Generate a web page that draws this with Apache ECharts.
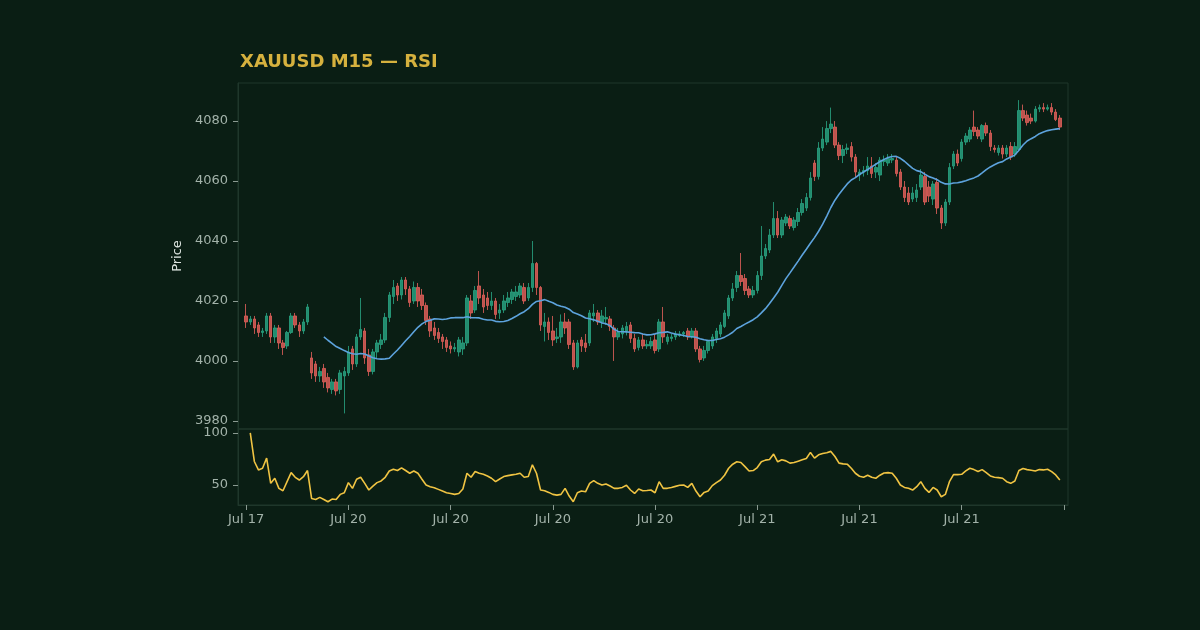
<!DOCTYPE html>
<html>
<head>
<meta charset="utf-8">
<title>XAUUSD M15 — RSI</title>
<script src="https://cdn.jsdelivr.net/npm/echarts@6/dist/echarts.min.js"></script>
<style>
  html, body { margin: 0; padding: 0; background: #0a1e14; }
  #chart { width: 1200px; height: 630px; }
</style>
</head>
<body>
<div id="chart"></div>
<script>
// trading days and how many M15 bars each one has on the chart
const days = [['Jul 17', 16], ['Jul 20', 96], ['Jul 21', 88]];

// [open, close, low, high]
const ohlc = [
  [4015, 4013, 4011, 4019], [4013, 4014, 4012, 4015], [4014, 4011, 4009, 4015], [4012, 4009.5, 4008, 4013],
  [4009.5, 4010, 4008, 4011], [4010, 4015, 4009, 4016], [4015, 4008, 4006, 4016], [4008, 4011, 4006, 4012],
  [4011, 4006, 4004, 4012], [4006, 4004.5, 4002, 4007], [4005, 4009.5, 4004, 4010], [4009.5, 4015, 4009, 4016],
  [4015, 4012, 4011, 4016], [4012, 4010, 4008, 4013], [4010, 4013, 4009, 4014], [4013, 4018, 4012, 4019],
  [4001, 3996, 3994, 4003], [3999, 3995, 3993, 4000], [3995, 3996.5, 3993, 3998], [3997.5, 3993, 3991, 3999],
  [3994.5, 3991, 3989.5, 3996], [3990.5, 3993, 3989, 3994], [3993, 3990, 3988.5, 3994], [3990.5, 3996, 3989, 3997],
  [3995, 3996.5, 3982.5, 3998], [3996, 4003, 3995, 4005], [4004, 3999, 3997, 4005], [3999, 4008, 3998, 4009],
  [4008, 4010.5, 4007, 4021], [4010, 4001, 3999, 4011], [4002, 3996.5, 3995, 4004], [3996.5, 4003, 3995.5, 4004],
  [4003, 4006, 4001, 4007], [4005.5, 4007, 4004, 4009], [4007, 4014.5, 4006, 4016], [4014.5, 4022, 4013, 4023],
  [4021.5, 4024.5, 4019, 4027], [4025, 4022, 4020, 4026], [4022, 4027, 4020.5, 4028], [4027, 4024, 4022, 4028],
  [4024, 4019.5, 4018, 4025], [4020, 4024.5, 4019, 4026.5], [4024.5, 4020, 4018, 4026], [4022, 4018.5, 4017, 4024],
  [4018.5, 4013.5, 4012, 4019.5], [4014, 4010, 4008, 4015], [4011, 4008.5, 4007, 4013], [4009.5, 4007.5, 4006, 4011],
  [4008, 4006.5, 4004, 4009], [4007, 4004.5, 4003, 4008], [4005, 4004, 4002.5, 4006.5], [4004, 4004.5, 4003, 4006],
  [4003, 4007, 4001.5, 4008], [4004, 4006, 4002, 4008], [4006, 4021, 4005, 4022], [4020, 4016, 4014, 4022],
  [4017, 4023.5, 4016, 4025], [4025, 4021, 4019, 4030], [4022, 4018, 4016, 4024], [4021, 4018.5, 4017, 4023],
  [4018.5, 4020, 4017, 4023], [4020, 4015.5, 4014, 4021], [4016, 4017, 4014, 4019], [4017, 4020, 4016, 4022],
  [4019.5, 4021, 4018, 4023], [4020.5, 4023, 4019, 4024], [4021.5, 4023, 4020, 4025], [4022, 4025, 4021, 4026],
  [4024.5, 4020, 4019, 4026], [4021, 4024.5, 4020, 4026], [4024.5, 4032.5, 4023, 4040], [4032.5, 4024.5, 4022, 4033],
  [4024.5, 4012, 4010, 4025], [4011.5, 4013, 4006.5, 4016], [4013, 4009.5, 4007, 4014.5], [4010, 4007, 4005, 4015],
  [4007.5, 4008, 4006, 4011], [4008, 4013, 4006, 4015.5], [4013, 4011, 4009, 4016], [4013, 4005.5, 4004, 4014],
  [4006, 3998, 3997, 4007], [3998, 4006, 3997.5, 4007], [4007, 4005, 4003, 4008], [4006, 4004.5, 4003, 4009],
  [4006, 4016, 4005, 4017], [4015, 4016, 4013, 4019], [4016, 4013, 4012, 4017], [4013, 4015, 4011, 4017],
  [4014, 4014.5, 4012, 4018], [4014, 4011.5, 4010, 4015], [4011, 4008, 4000, 4012], [4008, 4009.5, 4007, 4011],
  [4009, 4011, 4007.5, 4012], [4010, 4011.5, 4008.5, 4013], [4012, 4007.5, 4006, 4013], [4007.5, 4004, 4003, 4009],
  [4004.5, 4007, 4003.5, 4008], [4007, 4005, 4004, 4009], [4005, 4005.5, 4004, 4007], [4005, 4006.5, 4004, 4008],
  [4007, 4003.5, 4002.5, 4009], [4004, 4013, 4003, 4014], [4013, 4008, 4006, 4018], [4006.5, 4008, 4005.5, 4009],
  [4007.5, 4008, 4006.5, 4009], [4008, 4009, 4007, 4010], [4008.5, 4009, 4008, 4010], [4009, 4009.5, 4008, 4010],
  [4010, 4008, 4007, 4011], [4008, 4010, 4007.5, 4011], [4010, 4004, 4003, 4011], [4004, 4000.5, 3999.5, 4005],
  [4001, 4003.5, 4000, 4005], [4003.5, 4006.5, 4002.5, 4007], [4005, 4008, 4004, 4009], [4007.5, 4010, 4006, 4011],
  [4009, 4012, 4008, 4013], [4011.5, 4016, 4011, 4017], [4015, 4021, 4014, 4022], [4021, 4024, 4020, 4026],
  [4024.5, 4028.5, 4023, 4030], [4028.5, 4026.5, 4025, 4036], [4027.5, 4023.5, 4022, 4029], [4024, 4022, 4021, 4025],
  [4022, 4023.5, 4021, 4025], [4023.5, 4028.5, 4022.5, 4030], [4028.5, 4035, 4027, 4045], [4035, 4037.5, 4034, 4039],
  [4037, 4042, 4036, 4044], [4042, 4047.5, 4041, 4053], [4047.5, 4042, 4041, 4050], [4042, 4047, 4041, 4048],
  [4046, 4048, 4045, 4049], [4047.5, 4045, 4044, 4048.5], [4044.5, 4047, 4043.5, 4048], [4046.5, 4049.5, 4045, 4051],
  [4049.5, 4052.5, 4048.5, 4054], [4051, 4054.5, 4050, 4056], [4054.5, 4061, 4053.5, 4063], [4066, 4061.5, 4060, 4067],
  [4061.5, 4071, 4060.5, 4073], [4071, 4074, 4070, 4078], [4073, 4077.5, 4072, 4080], [4077.5, 4079, 4076, 4084.5],
  [4078, 4072, 4071, 4080], [4072, 4068.5, 4067, 4073], [4068.5, 4070.5, 4066, 4072], [4070.5, 4071, 4069, 4072.5],
  [4071.5, 4068, 4066.5, 4073], [4068, 4063, 4061, 4069], [4062, 4063, 4060, 4064], [4063, 4063.5, 4061.5, 4065],
  [4063.5, 4065, 4062, 4068], [4065, 4062.5, 4061, 4068], [4063, 4064.5, 4061, 4066], [4062, 4067, 4060, 4068],
  [4066.5, 4067, 4065, 4068.5], [4066, 4067.5, 4065, 4069], [4067, 4067.5, 4066, 4069], [4067, 4062.5, 4061.5, 4068],
  [4063, 4058, 4057, 4064], [4058, 4054.5, 4053, 4060], [4056, 4053, 4052, 4058], [4054, 4056, 4053, 4058],
  [4054.5, 4057, 4053, 4059], [4058, 4062, 4057, 4064], [4061.5, 4053, 4052, 4063], [4058, 4055, 4053, 4060],
  [4054, 4059, 4052, 4060], [4059.5, 4051, 4049, 4061], [4051, 4046, 4044, 4052], [4046, 4053, 4045, 4054],
  [4053, 4064.5, 4052, 4066], [4065, 4069, 4064, 4070], [4069, 4066, 4065, 4070.5], [4067.5, 4073, 4066.5, 4074],
  [4073, 4075, 4072, 4076], [4074, 4077, 4073, 4078], [4078, 4076.5, 4075, 4083.5], [4077, 4075, 4074, 4078],
  [4074, 4078.5, 4073, 4079], [4078.5, 4076, 4075, 4079.5], [4076, 4071.5, 4070, 4077], [4071, 4070.5, 4069.5, 4072],
  [4069.5, 4071, 4068.5, 4072], [4071, 4069, 4067.5, 4072], [4069, 4071, 4068, 4072], [4071.5, 4068, 4067, 4073],
  [4069, 4071.5, 4068, 4073], [4070.5, 4083.5, 4070, 4087], [4083.5, 4081, 4080, 4085.5], [4082, 4079.5, 4078.5, 4083.5],
  [4081, 4080, 4079, 4082.5], [4080, 4084, 4079.5, 4085], [4084, 4084.5, 4083, 4085.5], [4084.5, 4084, 4083, 4086],
  [4084, 4084.5, 4083.5, 4085.5], [4084.5, 4083, 4082, 4086], [4083, 4080.5, 4080, 4084], [4081, 4078, 4077, 4082]
];

const rsi = [
  '-', 100, 72.6, 64.5, 66.1, 75.8, 51.6, 56.5, 46.8, 44.5, 53.2, 61.9, 57.4, 54.8, 58, 63.9,
  37.1, 36.1, 38.1, 36.1, 33.9, 36.5, 36.1, 41, 42.6, 52.3, 46.8, 55.5, 57.4, 51.6, 45.2, 49,
  52.3, 53.9, 57.4, 63.5, 65.2, 63.9, 66.5, 63.9, 61.3, 63.5, 61.3, 55.5, 50, 48.4, 47.4, 45.8,
  44.2, 42.6, 41.9, 41, 41.9, 46.1, 61.3, 57.4, 62.9, 61.3, 60.3, 58.7, 56.5, 53.2, 55.8, 58.1,
  59, 59.7, 60.3, 61.3, 57.4, 58.1, 69.4, 61.3, 45.2, 44.5, 42.9, 41, 40.3, 41, 46.8, 39.4,
  33.9, 42.6, 44.2, 43.5, 51.6, 54.2, 51.6, 50, 51, 49, 46.8, 46.8, 47.7, 49.7, 45.2, 41.9,
  46.1, 44.5, 44.8, 45.2, 42.6, 53.2, 46.8, 46.8, 47.7, 48.7, 49.7, 50, 47.7, 51.6, 44.2, 38.7,
  42.9, 44.2, 49.4, 52.3, 54.8, 59.4, 66.1, 70, 72.3, 71.6, 67.7, 63.5, 63.9, 66.8, 72.3, 73.9,
  74.5, 79.7, 72.3, 74.2, 73.2, 71, 71.6, 72.9, 74.2, 75.5, 81.3, 75.8, 79, 80.3, 81, 82.3,
  77.4, 71, 70.3, 70, 66.1, 61.3, 58.4, 57.4, 59.4, 57.4, 56.5, 59.4, 61.6, 61.9, 61.3, 56.5,
  50, 47.7, 46.8, 45.2, 48.4, 53.2, 46.8, 42.9, 47.7, 45.2, 38.7, 41, 53.2, 60, 60, 60.3,
  63.5, 66.1, 64.8, 62.9, 64.8, 61.9, 58.7, 57.4, 57.1, 56.5, 53.2, 51.6, 53.9, 63.9, 65.8, 64.8,
  64.2, 63.5, 64.8, 64.5, 65.2, 62.9, 59.7, 54.8
];

const priceTicks = [3980, 4000, 4020, 4040, 4060, 4080];
const rsiTicks = [50, 100];

const MA_PERIOD = 20;
const LEAD = 2;   // empty slots before the first bar
const TAIL = 2;   // and after the last one
const STEP = 25;  // bars between x labels

// category labels
let labels = [];
days.forEach(d => { for (let k = 0; k < d[1]; k++) labels.push(d[0]); });

function pad(arr, empty) {
  let out = [];
  for (let k = 0; k < LEAD; k++) out.push(empty);
  arr.forEach(v => out.push(v));
  for (let k = 0; k < TAIL; k++) out.push(empty);
  return out;
}

// simple moving average of closes, like the echarts candlestick example
function calculateMA(dayCount) {
  let result = [];
  for (let i = 0; i < ohlc.length; i++) {
    if (i < dayCount - 1) { result.push('-'); continue; }
    let sum = 0;
    for (let j = 0; j < dayCount; j++) sum += ohlc[i - j][1];
    result.push(+(sum / dayCount).toFixed(2));
  }
  return result;
}

const cats = pad(labels, '');
const showTick = idx => idx >= LEAD && (idx - LEAD) % STEP === 0;

const axisTxt = '#a3b3aa';
const border = '#1f372b';
const font = 'DejaVu Sans';

let chart = echarts.init(document.getElementById('chart'));
chart.setOption({
  animation: false,
  backgroundColor: '#0a1e14',
  textStyle: { fontFamily: font },
  title: {
    text: 'XAUUSD M15 — RSI',
    left: 235,
    top: 48,
    textStyle: { color: '#d6b13e', fontSize: 18, fontWeight: 'bold', fontFamily: font }
  },
  grid: [
    { left: 238, top: 83, width: 830, height: 346, show: true, borderColor: border, borderWidth: 1 },
    { left: 238, top: 429, width: 830, height: 76, show: true, borderColor: border, borderWidth: 1 }
  ],
  xAxis: [
    {
      type: 'category', gridIndex: 0, data: cats, boundaryGap: false,
      axisLine: { show: false }, axisTick: { show: false }, axisLabel: { show: false },
      splitLine: { show: false }
    },
    {
      type: 'category', gridIndex: 1, data: cats, boundaryGap: false,
      axisLine: { show: true, lineStyle: { color: border } },
      axisTick: { show: true, interval: showTick, length: 5, lineStyle: { color: '#8a9a91' } },
      axisLabel: { interval: showTick, color: axisTxt, fontSize: 13, margin: 8 },
      splitLine: { show: false }
    }
  ],
  yAxis: [
    {
      type: 'value', gridIndex: 0, min: 3977.3, max: 4092.7,
      name: 'Price', nameLocation: 'middle', nameGap: 54,
      nameTextStyle: { color: '#dfe7e2', fontSize: 13 },
      axisLine: { show: true, lineStyle: { color: border } },
      axisTick: { show: true, length: 5, customValues: priceTicks, lineStyle: { color: '#8a9a91' } },
      axisLabel: { customValues: priceTicks, formatter: v => String(v), color: axisTxt, fontSize: 13, margin: 10 },
      splitLine: { show: false }
    },
    {
      type: 'value', gridIndex: 1, min: 30.8, max: 103.8,
      axisLine: { show: true, lineStyle: { color: border } },
      axisTick: { show: true, length: 5, customValues: rsiTicks, lineStyle: { color: '#8a9a91' } },
      axisLabel: { customValues: rsiTicks, formatter: v => String(v), color: axisTxt, fontSize: 13, margin: 10 },
      splitLine: { show: false }
    }
  ],
  series: [
    {
      name: 'XAUUSD',
      type: 'candlestick',
      xAxisIndex: 0, yAxisIndex: 0,
      data: pad(ohlc, ['-', '-', '-', '-']),
      barWidth: 3,
      itemStyle: {
        color: '#28a07f', color0: '#dc5e58',
        borderColor: '#28a07f', borderColor0: '#dc5e58',
        borderWidth: 1, opacity: 0.85
      }
    },
    {
      name: 'MA' + MA_PERIOD,
      type: 'line',
      xAxisIndex: 0, yAxisIndex: 0,
      data: pad(calculateMA(MA_PERIOD), '-'),
      showSymbol: false,
      lineStyle: { color: '#5da3dd', width: 1.6 },
      z: 5
    },
    {
      name: 'RSI',
      type: 'line',
      xAxisIndex: 1, yAxisIndex: 1,
      data: pad(rsi, '-'),
      showSymbol: false,
      lineStyle: { color: '#f0c443', width: 1.6 }
    }
  ]
});
</script>
</body>
</html>
